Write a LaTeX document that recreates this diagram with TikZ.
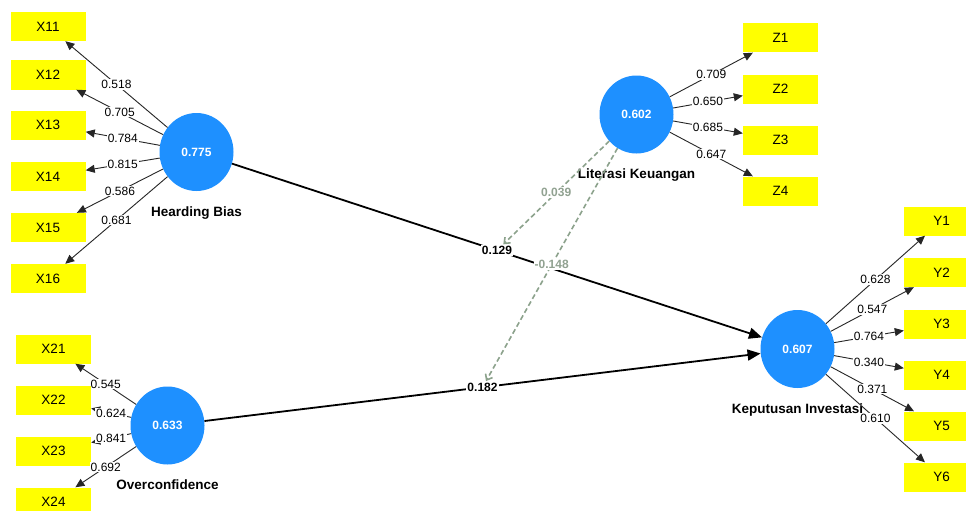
\documentclass[tikz,border=0pt]{standalone}
\usepackage{fontspec}
\setmainfont{Liberation Sans}
\usepackage{tikz}
\usetikzlibrary{arrows.meta,positioning,shapes.geometric}
\definecolor{lvblue}{RGB}{30,144,255}
\definecolor{indyellow}{RGB}{255,255,0}
\definecolor{modgrey}{RGB}{140,162,140}
\definecolor{modtext}{RGB}{145,162,145}

\tikzset{
  latent/.style={ellipse,fill=lvblue,minimum width=74pt,minimum height=78pt,
    inner sep=0pt,text=white,font=\fontsize{12}{14}\selectfont\bfseries},
  lvname/.style={font=\fontsize{13.5}{15}\selectfont\bfseries,inner sep=1pt},
  ind/.style={rectangle,fill=indyellow,minimum width=75pt,minimum height=29pt,
    inner sep=0pt,font=\fontsize{13.5}{15}\selectfont},
  load/.style={draw=black!85,line width=0.9pt,-{Triangle[length=9pt,width=8pt]}},
  lval/.style={fill=white,inner sep=1pt,font=\fontsize{12}{14}\selectfont},
  struct/.style={line width=1.8pt,-{Triangle[length=13pt,width=11pt]}},
  coef/.style={fill=white,inner sep=1pt,font=\fontsize{12}{14}\selectfont\bfseries},
  moder/.style={draw=modgrey,line width=1.6pt,dash pattern=on 5pt off 3pt,
    -{Straight Barb[length=5pt,width=8pt]}},
  mval/.style={fill=white,inner sep=1pt,text=modtext,font=\fontsize{12}{14}\selectfont\bfseries},
}

\begin{document}
\begin{tikzpicture}[x=1pt,y=-1pt]

\useasboundingbox[fill=white] (0,0) rectangle (966,511);

% latent variables
\node[latent] (HB) at (196.5,152) {0.775};
\node[lvname,below=14pt of HB] (HBname) {Hearding Bias};

\node[latent] (OC) at (167.5,425.5) {0.633};
\node[lvname,below=14pt of OC] (OCname) {Overconfidence};

\node[latent] (LK) at (636.5,114.5) {0.602};
\node[lvname,below=14pt of LK] (LKname) {Literasi Keuangan};

\node[latent] (KI) at (797.5,349) {0.607};
\node[lvname,below=14pt of KI] (KIname) {Keputusan Investasi};

% indicators and loadings
\foreach \i/\y/\v in {1/26.5/0.518, 2/75/0.705, 3/125/0.784,
                      4/176.5/0.815, 5/227.5/0.586, 6/278.5/0.681}{
  \node[ind] (X1\i) at (48,\y) {X1\i};
  \draw[load] (HB) -- node[lval] (lx1\i) {\v} (X1\i);
}

\foreach \i/\y/\v in {1/349/0.545, 2/400/0.624, 3/451/0.841, 4/502/0.692}{
  \node[ind] (X2\i) at (53.5,\y) {X2\i};
  \draw[load] (OC) -- node[lval] (lx2\i) {\v} (X2\i);
}

\foreach \i/\y/\v in {1/38/0.709, 2/89/0.650, 3/140/0.685, 4/191/0.647}{
  \node[ind] (Z\i) at (780.5,\y) {Z\i};
  \draw[load] (LK) -- node[lval] (lz\i) {\v} (Z\i);
}

\foreach \i/\y/\v in {1/221/0.628, 2/272.5/0.547, 3/324/0.764,
                      4/375/0.340, 5/426/0.371, 6/477/0.610}{
  \node[ind] (Y\i) at (941.5,\y) {Y\i};
  \draw[load] (KI) -- node[lval] (ly\i) {\v} (Y\i);
}

% structural paths
\draw[struct] (HB) -- node[coef] (bHB) {0.129} (KI);
\draw[struct] (OC) -- node[coef] (bOC) {0.182} (KI);

% moderating effects
\draw[moder] (LK) -- node[mval] (mHB) {0.039} (bHB);
\draw[moder] (LK) -- node[mval] (mOC) {-0.148} (bOC);

\end{tikzpicture}
\end{document}
